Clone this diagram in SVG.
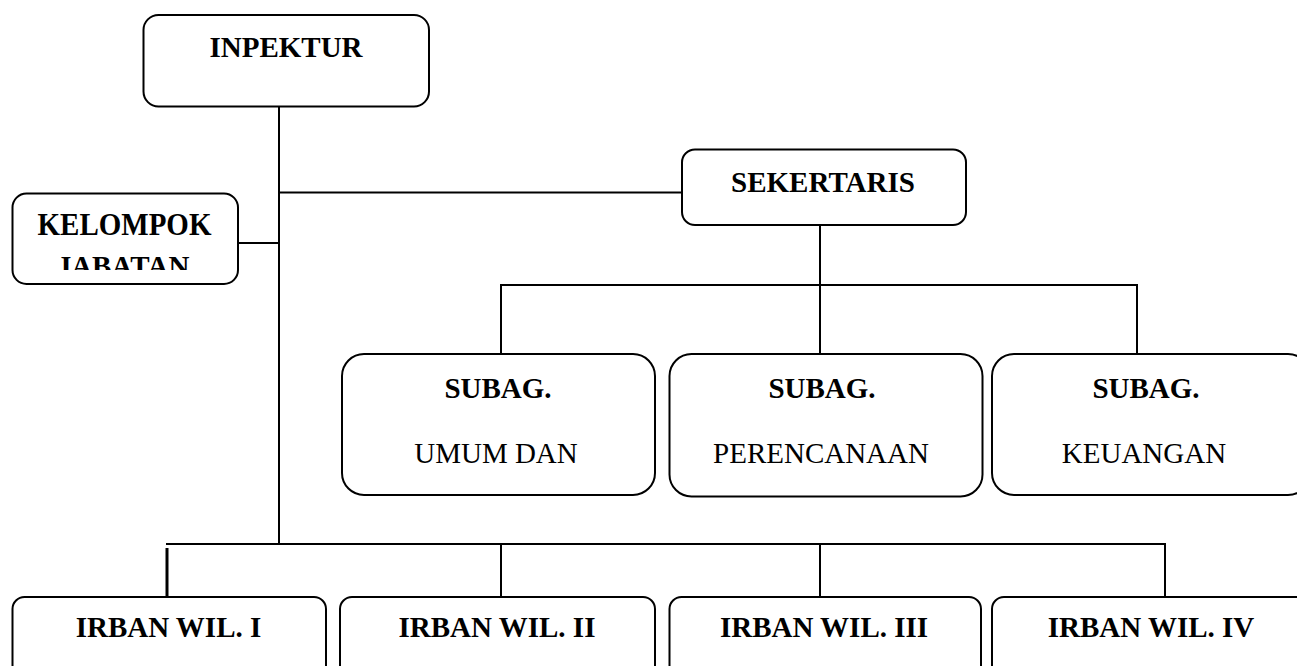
<svg xmlns="http://www.w3.org/2000/svg" width="1297" height="666" viewBox="0 0 1297 666">
  <style>
    .box { fill: #fff; stroke: #000; stroke-width: 2; }
    .ln { stroke: #000; stroke-width: 2; fill: none; }
    .b { font-family: "Liberation Serif", "Times New Roman", serif; font-weight: bold; font-size: 29px; fill: #000; text-anchor: middle; }
    .r { font-family: "Liberation Serif", "Times New Roman", serif; font-size: 29px; fill: #000; text-anchor: middle; }
  </style>
  <defs>
    <clipPath id="clipJab">
      <rect x="0" y="240" width="250" height="30"/>
    </clipPath>
  </defs>
  <rect width="1297" height="666" fill="#fff"/>

  <g id="connectors">
    <line class="ln" x1="279" y1="107" x2="279" y2="545"/>
    <line class="ln" x1="279" y1="192.5" x2="682" y2="192.5"/>
    <line class="ln" x1="238" y1="243" x2="279" y2="243"/>
    <line class="ln" x1="820" y1="225" x2="820" y2="354"/>
    <line class="ln" x1="500" y1="285" x2="1138" y2="285"/>
    <line class="ln" x1="501" y1="284" x2="501" y2="354"/>
    <line class="ln" x1="1137" y1="284" x2="1137" y2="354"/>
    <line class="ln" x1="166" y1="544" x2="1166" y2="544"/>
    <line class="ln" x1="167" y1="548" x2="167" y2="597" style="stroke-width:3"/>
    <line class="ln" x1="501" y1="544" x2="501" y2="597"/>
    <line class="ln" x1="820" y1="544" x2="820" y2="597"/>
    <line class="ln" x1="1165" y1="544" x2="1165" y2="597"/>
  </g>

  <g id="inpektur">
    <rect class="box" x="143.5" y="15" width="285.5" height="91.5" rx="15"/>
    <text class="b" x="286" y="57">INPEKTUR</text>
  </g>

  <g id="kelompok">
    <rect class="box" x="12.5" y="193.5" width="225.5" height="90.5" rx="14"/>
    <text class="b" x="124.5" y="235" transform="translate(0,235) scale(1,1.12) translate(0,-235)">KELOMPOK</text>
    <text class="b" x="123" y="276" clip-path="url(#clipJab)">JABATAN</text>
  </g>

  <g id="sekertaris">
    <rect class="box" x="682" y="149.5" width="284" height="75.5" rx="13"/>
    <text class="b" x="823" y="192">SEKERTARIS</text>
  </g>

  <g id="subag-umum">
    <rect class="box" x="342" y="354" width="313" height="141" rx="22"/>
    <text class="b" x="498" y="398">SUBAG.</text>
    <text class="r" x="496" y="463">UMUM DAN</text>
  </g>

  <g id="subag-perencanaan">
    <rect class="box" x="669.5" y="354" width="313" height="142.5" rx="22"/>
    <text class="b" x="822" y="398">SUBAG.</text>
    <text class="r" x="821" y="463">PERENCANAAN</text>
  </g>

  <g id="subag-keuangan">
    <rect class="box" x="992" y="354" width="318" height="141" rx="22"/>
    <text class="b" x="1146" y="398">SUBAG.</text>
    <text class="r" x="1144" y="463">KEUANGAN</text>
  </g>

  <g id="irban-1">
    <rect class="box" x="12.5" y="597" width="313.5" height="90" rx="12"/>
    <text class="b" x="168.5" y="637">IRBAN WIL. I</text>
  </g>

  <g id="irban-2">
    <rect class="box" x="340" y="597" width="315" height="90" rx="12"/>
    <text class="b" x="497" y="637">IRBAN WIL. II</text>
  </g>

  <g id="irban-3">
    <rect class="box" x="669.5" y="597" width="311.5" height="90" rx="12"/>
    <text class="b" x="824" y="637">IRBAN WIL. III</text>
  </g>

  <g id="irban-4">
    <rect class="box" x="992" y="597" width="318" height="90" rx="12"/>
    <text class="b" x="1151" y="637">IRBAN WIL. IV</text>
  </g>
</svg>
